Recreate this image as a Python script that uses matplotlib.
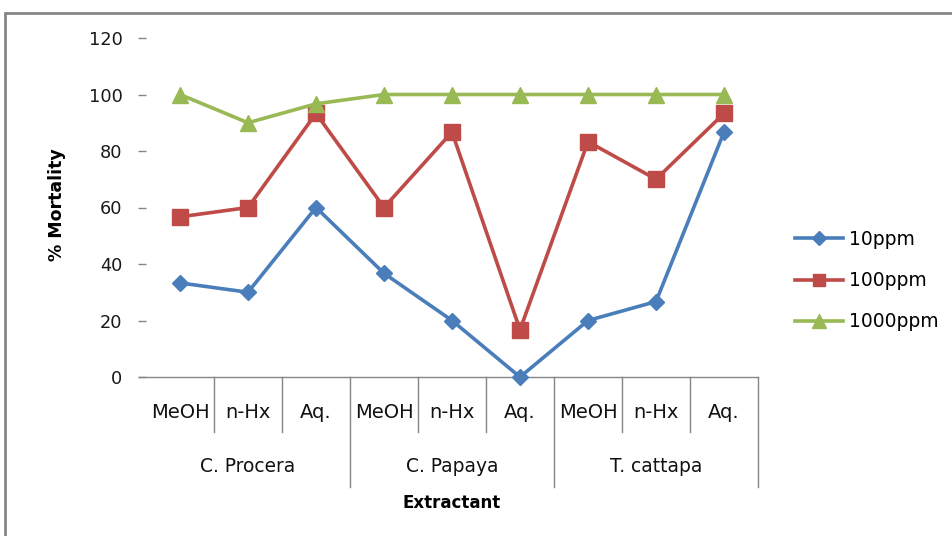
import matplotlib
matplotlib.use("Agg")
import matplotlib.pyplot as plt
from matplotlib.transforms import blended_transform_factory
from matplotlib.lines import Line2D
from matplotlib.patches import Rectangle

plt.rcParams['font.family'] = ['DejaVu Sans']

solvents = ["MeOH", "n-Hx", "Aq.", "MeOH", "n-Hx", "Aq.", "MeOH", "n-Hx", "Aq."]
plants = ["C. Procera", "C. Papaya", "T. cattapa"]
series_names = ["10ppm", "100ppm", "1000ppm"]
ppm10 = [33.3, 30.0, 60.0, 36.7, 20.0, 0.0, 20.0, 26.7, 86.7]
ppm100 = [56.7, 60.0, 93.3, 60.0, 86.7, 16.7, 83.3, 70.0, 93.3]
ppm1000 = [100.0, 90.0, 96.7, 100.0, 100.0, 100.0, 100.0, 100.0, 100.0]
yticks = [0, 20, 40, 60, 80, 100, 120]

W, H = 952, 536
fig = plt.figure(figsize=(W / 100, H / 100), dpi=100)
ax = fig.add_axes([146 / W, 1 - 377 / H, 612 / W, 339 / H])

colors = ["#4A7EBB", "#BE4B48", "#98B954"]
markers = ["D", "s", "^"]
msizes = [8.5, 11, 11.5]
x = list(range(len(solvents)))
for vals, name, c, m, ms in zip([ppm10, ppm100, ppm1000], series_names, colors, markers, msizes):
    ax.plot(x, vals, color=c, lw=2.6, marker=m, ms=ms, mec=c, mfc=c, label=name,
            clip_on=False, zorder=3)

ax.set_xlim(-0.5, len(solvents) - 0.5)
ax.set_ylim(0, 120)
ax.set_yticks(yticks)
ax.set_yticklabels([str(v) for v in yticks])
ax.tick_params(axis='y', length=6, width=1, color='#868686', labelsize=12.8, pad=11,
               labelcolor='#1a1a1a')
ax.set_xticks([])
for s in ['top', 'right', 'left']:
    ax.spines[s].set_visible(False)
ax.spines['bottom'].set_color('#868686')
ax.spines['bottom'].set_linewidth(1)
ax.spines['bottom'].set_bounds(-0.6, len(solvents) - 0.5)

trans = blended_transform_factory(ax.transData, fig.transFigure)
def fy(py):
    return 1 - py / H

for i, s in enumerate(solvents):
    fig.text(i, fy(412), s, transform=trans, ha='center', va='center', fontsize=14,
             color='#111111')
for i in range(1, len(solvents) + 1):
    if i % 3 == 0:
        continue
    fig.add_artist(Line2D([i - 0.5, i - 0.5], [fy(377), fy(432)], transform=trans,
                          color='#868686', lw=1))
for g in range(1, len(plants) + 1):
    xx = g * 3 - 0.5
    fig.add_artist(Line2D([xx, xx], [fy(377), fy(487)], transform=trans,
                          color='#868686', lw=1))
for g, p in enumerate(plants):
    fig.text(g * 3 + 1, fy(466), p, transform=trans, ha='center', va='center',
             fontsize=13.4, color='#111111')

fig.text(452 / W, fy(503), "Extractant", ha='center', va='center', fontsize=12,
         fontweight='bold')
fig.text(57 / W, fy(205), "% Mortality", ha='center', va='center', fontsize=12.5,
         fontweight='bold', rotation=90)

leg = fig.legend(loc='upper left', bbox_to_anchor=(795 / W, fy(230)), frameon=False,
                 fontsize=13.5, handlelength=2.56, labelspacing=1.18, handletextpad=0.32,
                 borderaxespad=0, borderpad=0, markerscale=0.85)

fig.add_artist(Rectangle((5 / W, -0.1), 1.2, fy(13) + 0.1, transform=fig.transFigure,
                         fill=False, edgecolor='#868686', lw=2, clip_on=False))

fig.savefig("out.png", dpi=100)
